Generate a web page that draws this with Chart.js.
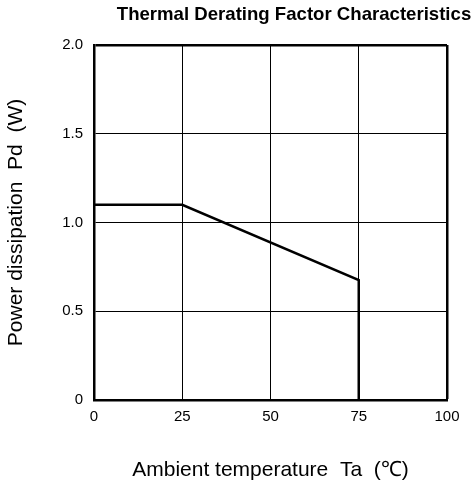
<!DOCTYPE html>
<html>
<head>
<meta charset="utf-8">
<script src="https://cdn.jsdelivr.net/npm/chart.js@4"></script>
<style>
html,body{margin:0;padding:0;background:#fff;}
canvas{display:block;}
</style>
</head>
<body>
<canvas id="c" width="473" height="485"></canvas>
<script>
const chartTitle = 'Thermal Derating Factor Characteristics';
const xTitle = 'Ambient temperature  Ta  (\u2103)';
const yTitle = 'Power dissipation  Pd  (W)';
const temperature = [0, 25, 75, 75];
const powerDissipation = [1.1, 1.1, 0.675, 0];
const xTicks = [0, 25, 50, 75, 100];
const yTicks = [0, 0.5, 1.0, 1.5, 2.0];

const FONT = "'Liberation Sans', Arial, sans-serif";

const titlePlugin = {
  id: 'customTitle',
  afterDraw(chart) {
    const ctx = chart.ctx;
    ctx.save();
    ctx.font = 'bold 18.6px ' + FONT;
    ctx.fillStyle = '#000';
    ctx.textAlign = 'center';
    ctx.textBaseline = 'middle';
    ctx.fillText(chartTitle, 294, 15);
    ctx.restore();
  }
};

new Chart(document.getElementById('c'), {
  type: 'line',
  data: {
    datasets: [{
      data: temperature.map((t, i) => ({x: t, y: powerDissipation[i]})),
      borderColor: '#000',
      borderWidth: 2.5,
      pointRadius: 0,
      fill: false,
      tension: 0
    }]
  },
  options: {
    responsive: false,
    animation: false,
    devicePixelRatio: 1,
    layout: {padding: {top: 45, right: 26, left: 0, bottom: 0}},
    plugins: {legend: {display: false}, tooltip: {enabled: false}, title: {display: false}},
    scales: {
      x: {
        type: 'linear',
        min: 0, max: 100,
        afterBuildTicks(scale) { scale.ticks = xTicks.map(v => ({value: v})); },
        afterFit(scale) { scale.height = 85; },
        ticks: {color: '#000', font: {family: FONT, size: 15}, padding: 8, maxRotation: 0},
        grid: {
          color: '#000',
          lineWidth: (c) => (c.tick && c.tick.value === 100 ? 2.5 : 1),
          drawTicks: false
        },
        border: {color: '#000', width: 2.5},
        title: {display: true, text: xTitle, color: '#000', font: {family: FONT, size: 21, lineHeight: 1.2}, padding: {top: 0, bottom: 2}}
      },
      y: {
        type: 'linear',
        min: 0, max: 2,
        afterBuildTicks(scale) { scale.ticks = yTicks.map(v => ({value: v})); },
        afterFit(scale) { scale.width = 94; },
        ticks: {
          color: '#000', font: {family: FONT, size: 15}, padding: 11,
          callback: (v) => (v === 0 ? '0' : v.toFixed(1))
        },
        grid: {
          color: '#000',
          lineWidth: (c) => (c.tick && c.tick.value === 2 ? 2.5 : 1),
          drawTicks: false
        },
        border: {color: '#000', width: 2.5},
        title: {display: true, text: yTitle, color: '#000', font: {family: FONT, size: 21, lineHeight: 1.2}, padding: {top: 4, bottom: 0}}
      }
    }
  },
  plugins: [titlePlugin]
});
</script>
</body>
</html>
